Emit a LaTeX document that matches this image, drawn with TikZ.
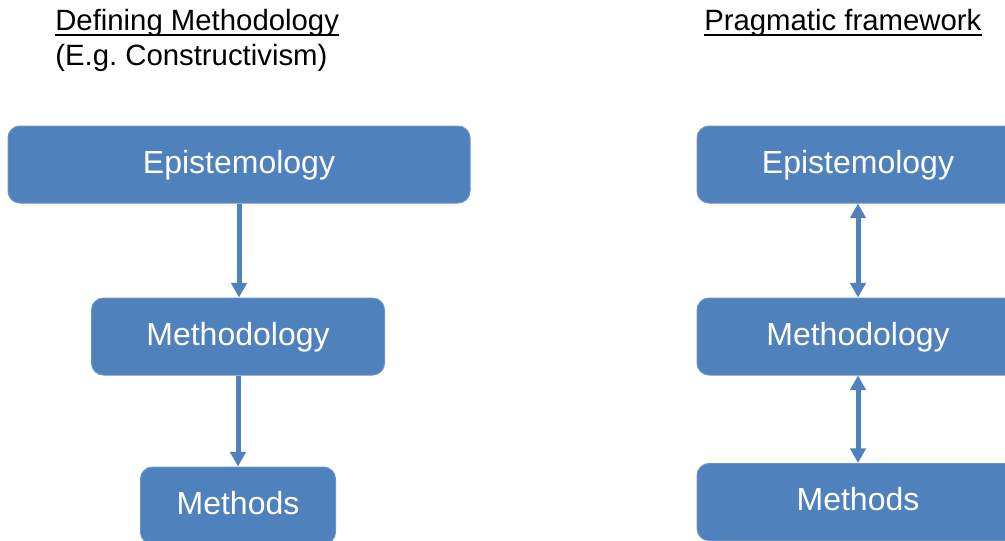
\documentclass[tikz,border=0pt]{standalone}
\usepackage{fontspec}
\setmainfont{Liberation Sans}
\usetikzlibrary{arrows.meta}
\definecolor{boxblue}{HTML}{4F81BD}
\frenchspacing
\begin{document}
\begin{tikzpicture}[x=0.75pt,y=-0.75pt,
  box/.style={fill=boxblue, draw=boxblue!85!white, line width=0.75pt,
    rounded corners=9pt, text=white, inner sep=0pt,
    font=\fontsize{24}{28}\selectfont, text height=17.25pt, text depth=4.5pt,
    minimum height=57.75pt},
  heading/.style={anchor=base west, inner sep=0pt, font=\fontsize{22}{26}\selectfont},
  rule/.style={line width=1.5pt},
  link/.style={draw=boxblue, line width=3.75pt},
  onetip/.style={link, -{Triangle[width=11.5pt,length=11pt]}},
  twotips/.style={link, {Triangle[width=11.5pt,length=11pt]}-{Triangle[width=11.5pt,length=11pt]}}
]
\useasboundingbox (0,0) rectangle (1005,540);
\clip (0,0) rectangle (1005,540);

% headings
\node[heading] (h1) at (55,30) {Defining Methodology};
\node[heading] (h2) at (55,65) {(E.g. Constructivism)};
\node[heading] (h3) at (704,30) {Pragmatic framework};
\draw[rule] ([yshift=-3.75pt]h1.base west) -- ([yshift=-3.75pt]h1.base east);
\draw[rule] ([yshift=-3.75pt]h3.base west) -- ([yshift=-3.75pt]h3.base east);

% defining methodology: top-down chain
\node[box, minimum width=346.5pt] (e1) at (239,164.5) {Epistemology};
\node[box, minimum width=219.75pt] (m1) at (238,336.5) {Methodology};
\node[box, minimum width=146.25pt] (d1) at (238,505.5) {Methods};
\draw[onetip] (e1.south) -- (e1.south |- m1.north);
\draw[onetip] (m1.south) -- (m1.south |- d1.north);

% pragmatic framework: two-way links
\node[box, minimum width=241.5pt] (e2) at (858,164.5) {Epistemology};
\node[box, minimum width=241.5pt] (m2) at (858,336.5) {Methodology};
\node[box, minimum width=241.5pt] (d2) at (858,502) {Methods};
\draw[twotips] (e2.south) -- (m2.north);
\draw[twotips] (m2.south) -- (d2.north);
\end{tikzpicture}
\end{document}
